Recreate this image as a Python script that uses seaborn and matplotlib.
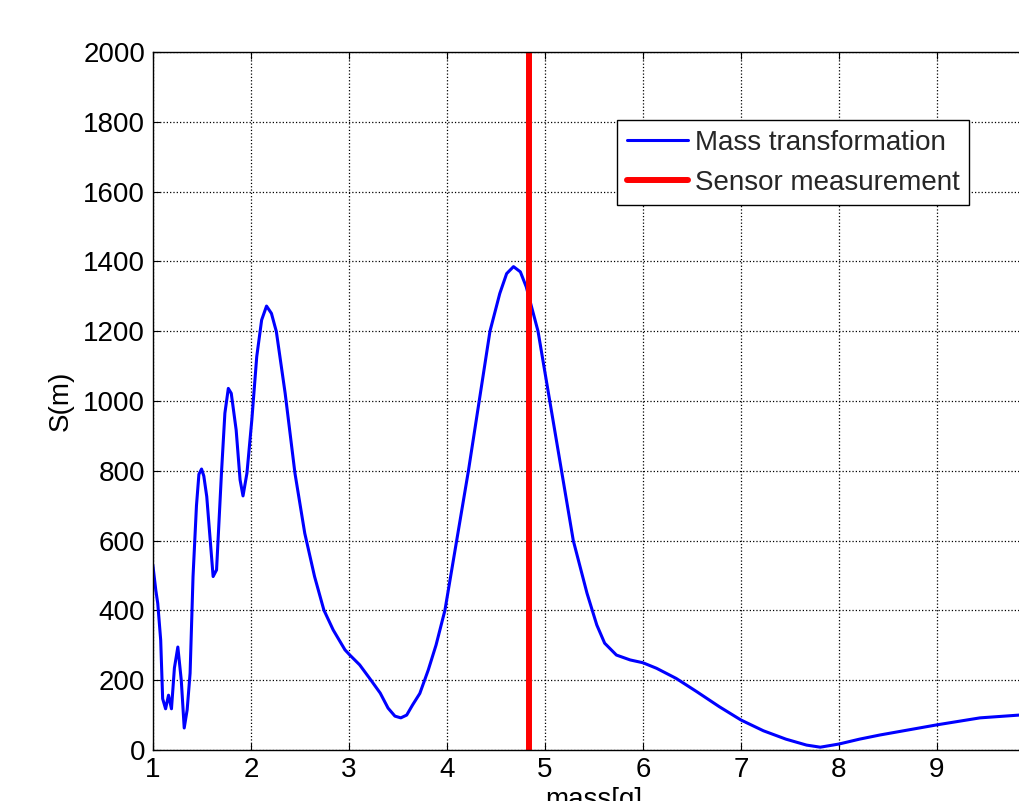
import matplotlib
matplotlib.use('Agg')
import matplotlib.pyplot as plt
import seaborn as sns
import pandas as pd

# Значення
mass = [1.00, 1.03, 1.05, 1.08, 1.10, 1.13, 1.16, 1.19, 1.22, 1.255, 1.29, 1.32, 1.35,
        1.38, 1.41, 1.445, 1.47, 1.497, 1.52, 1.55, 1.615, 1.65, 1.70, 1.735, 1.77, 1.80,
        1.85, 1.89, 1.92, 1.96, 2.01, 2.06, 2.11, 2.16, 2.21, 2.26, 2.35, 2.45, 2.55,
        2.65, 2.745, 2.84, 2.96, 3.01, 3.11, 3.21, 3.32, 3.40, 3.47, 3.53, 3.59, 3.65,
        3.724, 3.81, 3.89, 3.98, 4.10, 4.22, 4.33, 4.44, 4.54, 4.61, 4.68, 4.75, 4.81,
        4.93, 5.05, 5.17, 5.29, 5.43, 5.53, 5.61, 5.73, 5.87, 6.00, 6.14, 6.34, 6.55,
        6.78, 7.00, 7.23, 7.46, 7.67, 7.81, 8.00, 8.21, 8.42, 9.00, 9.44, 9.84, 10.0]
s_m = [530, 458, 420, 315, 147, 118, 157, 118, 235, 295, 200, 63, 115,
       220, 497, 700, 790, 805, 785, 726, 497, 516, 793, 965, 1036, 1022,
       917, 774, 728, 793, 946, 1127, 1232, 1272, 1251, 1199, 1022, 793, 621,
       497, 401, 344, 287, 272, 244, 206, 163, 120, 97, 92, 100, 129,
       162, 229, 301, 400, 600, 800, 1000, 1200, 1308, 1365, 1385, 1370, 1327,
       1200, 1000, 800, 600, 449, 358, 306, 272, 258, 250, 234, 205, 167,
       124, 86, 55, 31, 14, 8, 17, 31, 43, 72, 92, 100, 102]
sensor_mass = 4.84

x_ticks = list(range(1, 10))
y_ticks = list(range(0, 2001, 200))

df = pd.DataFrame({'mass': mass, 'S': s_m})

sns.set_theme(style="white")
plt.rcParams['font.family'] = ['Liberation Sans', 'DejaVu Sans']
plt.rcParams['xtick.direction'] = 'in'
plt.rcParams['ytick.direction'] = 'in'

fig = plt.figure(figsize=(10.19, 8.01), dpi=100)
ax = fig.add_axes([0.150, 0.0637, 0.8656, 0.8714])

sns.lineplot(data=df, x='mass', y='S', ax=ax, color='#0000ff', linewidth=2.2,
             label='Mass transformation', sort=False)
ax.axvline(sensor_mass, color='#ff0000', linewidth=4.3, label='Sensor measurement')

ax.set_xlim(1, 10)
ax.set_ylim(0, 2000)
ax.set_xticks(x_ticks)
ax.set_yticks(y_ticks)
ax.tick_params(labelsize=20, colors='black', length=5, width=0.8,
               top=True, right=True, bottom=True, left=True)
ax.tick_params(axis='x', pad=5)
ax.tick_params(axis='y', pad=5.5)
ax.grid(True, linestyle=':', color='black', linewidth=0.9)
for sp in ax.spines.values():
    sp.set_color('black')
    sp.set_linewidth(1.0)

ax.set_xlabel('mass[g]', fontsize=20, color='black', labelpad=3)
ax.set_ylabel('S(m)', fontsize=20, color='black', labelpad=7)

leg = ax.legend(loc='upper left', bbox_to_anchor=(0.526, 0.9026), borderaxespad=0,
                fancybox=False, framealpha=1, edgecolor='black', fontsize=20,
                handlelength=2.2, handletextpad=0.25, borderpad=0.35, labelspacing=0.5)
leg.get_frame().set_linewidth(1.0)

fig.savefig('out.png', dpi=100)
plt.close(fig)
